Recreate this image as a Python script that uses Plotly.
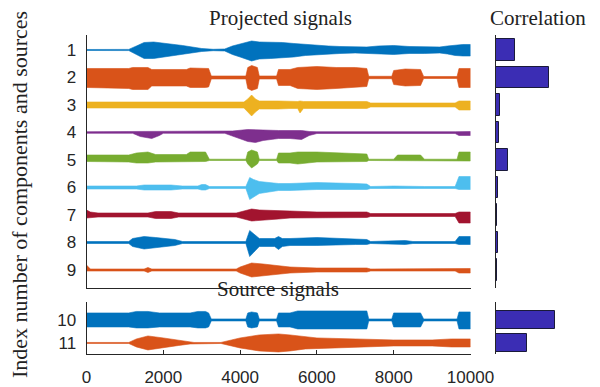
import plotly.graph_objects as go

# ---------------- data ----------------
# envelope knots for each signal: time samples, upper and lower amplitude (a.u.)
s1_t = [0, 1100, 1300, 1500, 1750, 2000, 2250, 2500, 2750, 3000, 3300, 3600, 3800, 4000, 4300, 4500, 4800, 5100, 5400, 5700, 6000, 6300, 6600, 7000, 7300, 7600, 8000, 8400, 8800, 9200, 9400, 9600, 9800, 10000]
s1_up = [0.5, 0.6, 4, 7.5, 8, 7, 6, 4.5, 3, 1.5, 0.7, 1, 4, 6, 9, 8, 8, 7.5, 6.5, 5.5, 5, 4, 3.5, 3, 3, 4, 4.5, 3.5, 3.5, 3, 4, 5, 5.5, 5.5]
s1_dn = [0.5, 0.6, 4.5, 8.5, 8.5, 7.5, 6, 4.5, 3, 1.5, 0.7, 1, 4.5, 7, 11, 9, 8.5, 8, 7, 5.5, 5, 4, 3.5, 3, 3, 4, 4.5, 3.5, 3.5, 3, 4, 5.5, 6, 6]

s2_t = [0, 1100, 1200, 1600, 1700, 2600, 2700, 3100, 3180, 3250, 4150, 4200, 4300, 4450, 4500, 4950, 5000, 5300, 5500, 6000, 6500, 7000, 7300, 7350, 7950, 8000, 8300, 8700, 8780, 9650, 9700, 10000]
s2_up = [9, 9, 10, 10, 8, 8, 9.5, 9.5, 9, 1.5, 1.5, 10, 12, 10, 1.5, 1.5, 8, 8, 10, 11, 10, 10, 9, 1.2, 1.2, 7, 8.5, 8, 1, 1, 9, 9]
s2_dn = [10, 11, 12, 12, 8.5, 8.5, 10, 10, 9.5, 1.5, 1.5, 11, 13, 11, 1.5, 1.5, 8, 8, 11, 12, 11, 10, 9, 1.2, 1.2, 7, 8.5, 8, 1, 1, 10, 10]

s3_t = [0, 2000, 3000, 4100, 4200, 4300, 4400, 4500, 5000, 5300, 5500, 5560, 5650, 6000, 7300, 7400, 9600, 9700, 10000]
s3_up = [3, 3, 3, 3, 6, 10, 6, 4, 4, 3.5, 3.5, 4, 3.5, 3.5, 3.5, 2, 2, 4, 4]
s3_dn = [3, 3, 3, 3, 7, 11, 7, 4, 4, 3.5, 3.5, 8, 3.5, 3.5, 3.5, 2, 2, 5, 5]

s4_t = [0, 1200, 1400, 1700, 1900, 2000, 3600, 3800, 4200, 4400, 4600, 5000, 5300, 5600, 5800, 6000, 9600, 9700, 10000]
s4_up = [0.8, 0.8, 1, 1.5, 1, 0.8, 0.8, 1.5, 3, 3, 2.5, 2, 2, 2, 1, 0.8, 0.8, 1, 1]
s4_dn = [0.8, 0.8, 4, 6, 3, 0.8, 0.8, 3, 9, 10, 8, 6, 6, 7, 3, 1, 1, 3, 3]

s5_t = [0, 1100, 1300, 1600, 1800, 2600, 2700, 3100, 3200, 4150, 4200, 4300, 4450, 4500, 4950, 5000, 5300, 5500, 6000, 7000, 7300, 7350, 8000, 8100, 8700, 8800, 9650, 9700, 10000]
s5_up = [5, 5, 7, 8, 5.5, 5.5, 8, 8, 0.8, 0.8, 8, 10, 8, 0.8, 0.8, 7, 7, 8, 8, 7, 6, 0.8, 0.8, 5, 5, 0.8, 0.8, 8, 8]
s5_dn = [1.5, 2, 3, 3, 2, 2, 1.5, 1.5, 0.5, 0.5, 4, 8, 4, 0.5, 0.5, 3, 3, 4, 2, 1.5, 1.5, 0.5, 0.5, 0.8, 0.8, 0.5, 0.5, 1, 1]

s6_t = [0, 1300, 1500, 2200, 2500, 2900, 3000, 3100, 3200, 4150, 4250, 4350, 4500, 5000, 5300, 6000, 7000, 7300, 7400, 8000, 8800, 9600, 9700, 10000]
s6_up = [1.5, 1.5, 2.5, 2.5, 1.5, 1.5, 3, 3, 1, 1, 10, 8, 6, 4, 4, 5, 4, 3.5, 1, 1.5, 1, 1, 11, 11]
s6_dn = [1.5, 1.5, 2.5, 2.5, 1.5, 1.5, 2.5, 2.5, 1, 1, 12, 10, 6, 3, 3, 2, 2, 2, 1, 1.5, 1, 1, 2, 2]

s7_t = [0, 100, 300, 1600, 1800, 2200, 2400, 3900, 4100, 4300, 4500, 5000, 5300, 6000, 7300, 7400, 9600, 9700, 10000]
s7_up = [5, 3, 2, 2, 3.5, 3.5, 2, 2, 4, 6, 5, 4, 4, 3, 3, 1.5, 1.5, 3, 3]
s7_dn = [3, 3, 2, 2, 3.5, 3.5, 2, 2, 4, 6, 5, 4, 3, 3, 2.5, 1.5, 1.5, 8, 8]

s8_t = [0, 1100, 1200, 1500, 1800, 2100, 2300, 2500, 4150, 4250, 4350, 4500, 4900, 5000, 5100, 5300, 6000, 7000, 7300, 7400, 8000, 8300, 8500, 9600, 9700, 10000]
s8_up = [1, 1, 4, 6, 5, 4, 3, 1, 1, 12, 9, 4, 4, 6, 4, 4, 5, 3, 3, 1, 1.5, 2, 1, 1, 6, 6]
s8_dn = [1, 1, 4, 6.5, 5, 4, 3, 1, 1, 14, 10, 4, 4, 7, 4, 3, 3, 2, 2, 1, 1.5, 2, 1, 1, 2, 2]

s9_t = [0, 100, 1500, 1600, 1700, 3900, 4000, 4300, 4600, 5000, 5300, 6000, 7300, 7400, 9600, 9700, 10000]
s9_up = [5, 1, 1, 2.5, 1, 1, 3, 7, 6, 4, 3, 2, 2, 1, 1, 1.5, 1.5]
s9_dn = [1, 1, 1, 2.5, 1, 1, 3, 7, 6, 4, 3, 2, 2, 1, 1, 3, 3]

s10_t = [0, 1100, 1300, 1600, 1900, 2700, 2900, 3100, 3180, 3250, 4150, 4200, 4300, 4450, 4500, 4950, 5000, 5300, 5500, 6500, 7300, 7350, 7950, 8000, 8700, 8780, 9650, 9700, 10000]
s10_up = [7, 7, 8.5, 8.5, 7, 7, 8.5, 8.5, 7, 1, 1, 7, 8, 7, 1, 1, 7, 7, 9, 9, 9, 1, 1, 7, 7, 1, 1, 8, 8]
s10_dn = [7, 7, 8, 8, 7, 7, 8, 8, 7, 1, 1, 7, 8, 7, 1, 1, 7, 7, 9, 9, 9, 1, 1, 7, 7, 1, 1, 9, 9]

s11_t = [0, 1100, 1300, 1600, 2000, 2400, 2700, 2800, 3500, 4000, 4500, 5000, 5300, 5700, 6000, 7000, 8000, 9000, 9500, 10000]
s11_up = [0.5, 0.5, 4, 7, 5, 2.5, 1, 0.5, 0.5, 5, 8, 9, 8, 6, 5, 4, 3, 3, 4, 4]
s11_dn = [0.5, 0.5, 4, 7, 5, 2.5, 1, 0.5, 0.5, 5, 8, 9, 8, 6, 5, 4, 3, 3, 4, 4]

projected_idx = [1, 2, 3, 4, 5, 6, 7, 8, 9]
source_idx = [10, 11]
corr_projected = [0.32, 0.88, 0.07, 0.05, 0.20, 0.04, 0.02, 0.04, 0.015]
corr_source = [0.98, 0.51]
x_ticks = [0, 2000, 4000, 6000, 8000, 10000]
x_tick_text = ["0", "2000", "4000", "6000", "8000", "10000"]

colors = ["#0072BD", "#D95319", "#EDB120", "#7E2F8E", "#77AC30",
          "#4DBEEE", "#A2142F", "#0072BD", "#D95319", "#0072BD", "#D95319"]
bar_color = "#3B2DB4"

projected = [(s1_t, s1_up, s1_dn), (s2_t, s2_up, s2_dn), (s3_t, s3_up, s3_dn),
             (s4_t, s4_up, s4_dn), (s5_t, s5_up, s5_dn), (s6_t, s6_up, s6_dn),
             (s7_t, s7_up, s7_dn), (s8_t, s8_up, s8_dn), (s9_t, s9_up, s9_dn)]
sources = [(s10_t, s10_up, s10_dn), (s11_t, s11_up, s11_dn)]

# ---------------- figure ----------------
W, H = 600, 387
fig = go.Figure()

def px_x(p):
    return p / W

def px_y(p):
    return 1 - p / H

scale_top = 1 / 27.5
scale_bot = 1 / 23.0

def add_env(t, up, dn, base, scale, color, xa, ya):
    xs = list(t) + list(t[::-1])
    ys = [base - u * scale for u in up] + [base + d * scale for d in dn[::-1]]
    fig.add_trace(go.Scatter(x=xs, y=ys, fill="toself", fillcolor=color,
                             line=dict(color=color, width=0.6), mode="lines",
                             xaxis=xa, yaxis=ya, hoverinfo="skip", showlegend=False))

for i, (t, up, dn) in enumerate(projected):
    add_env(t, up, dn, projected_idx[i], scale_top, colors[i], "x", "y")
for i, (t, up, dn) in enumerate(sources):
    add_env(t, up, dn, source_idx[i], scale_bot, colors[9 + i], "x2", "y2")

fig.add_trace(go.Bar(y=projected_idx, x=corr_projected, orientation="h", width=0.79,
                     marker=dict(color=bar_color, line=dict(color="#1a1a3a", width=1)),
                     xaxis="x3", yaxis="y3", hoverinfo="skip", showlegend=False))
fig.add_trace(go.Bar(y=source_idx, x=corr_source, orientation="h", width=0.75,
                     marker=dict(color=bar_color, line=dict(color="#1a1a3a", width=1)),
                     xaxis="x4", yaxis="y4", hoverinfo="skip", showlegend=False))

axcol = "#262626"
top_dom = [px_y(287.5), px_y(35)]
bot_dom = [px_y(354), px_y(302)]
sig_x_dom = [px_x(86.5), px_x(470.5)]
bar_x_dom = [px_x(496), 1.0]
top_range = [9.636, 0.455]
bot_range = [11.48, 9.22]
tickfont = dict(family="Liberation Sans, Arial, sans-serif", size=17, color="#262626")

common = dict(automargin=False, showgrid=False, zeroline=False)
fig.update_layout(
    width=W, height=H, margin=dict(l=0, r=0, t=0, b=0, autoexpand=False),
    paper_bgcolor="white", plot_bgcolor="white",
    xaxis=dict(domain=sig_x_dom, range=[0, 10000], anchor="y", showline=True,
               linecolor=axcol, linewidth=1, showticklabels=False, ticks="", **common),
    yaxis=dict(domain=top_dom, range=top_range, anchor="x", showline=True,
               linecolor=axcol, linewidth=1, tickvals=projected_idx, ticks="",
               tickfont=tickfont, ticklabelstandoff=6, **common),
    xaxis2=dict(domain=sig_x_dom, range=[0, 10000], anchor="y2", showline=True,
                linecolor=axcol, linewidth=1, tickvals=x_ticks, ticktext=x_tick_text,
                ticks="inside", ticklen=4, tickcolor=axcol, tickfont=tickfont,
                ticklabelstandoff=8, **common),
    yaxis2=dict(domain=bot_dom, range=bot_range, anchor="x2", showline=True,
                linecolor=axcol, linewidth=1, tickvals=source_idx, ticks="",
                tickfont=tickfont, ticklabelstandoff=6, **common),
    xaxis3=dict(domain=bar_x_dom, range=[0, 1.733], anchor="y3", visible=False, **common),
    yaxis3=dict(domain=top_dom, range=top_range, anchor="x3", showline=True,
                linecolor=axcol, linewidth=1, showticklabels=False, ticks="", **common),
    xaxis4=dict(domain=bar_x_dom, range=[0, 1.733], anchor="y4", visible=False, **common),
    yaxis4=dict(domain=bot_dom, range=bot_range, anchor="x4", showline=True,
                linecolor=axcol, linewidth=1, showticklabels=False, ticks="", **common),
    bargap=0,
)

serif_family = "Liberation Serif, Times New Roman, serif"
serif = dict(family=serif_family, size=21, color="#222222")
fig.add_annotation(text="Projected signals", x=px_x(280), y=px_y(18), xref="paper",
                   yref="paper", showarrow=False, font=serif, xanchor="center", yanchor="middle")
fig.add_annotation(text="Correlation", x=px_x(538), y=px_y(18), xref="paper",
                   yref="paper", showarrow=False, font=serif, xanchor="center", yanchor="middle")
fig.add_annotation(text="Source signals", x=px_x(278), y=px_y(289), xref="paper",
                   yref="paper", showarrow=False, font=serif, xanchor="center", yanchor="middle")
fig.add_annotation(text="Index number of components and sources", x=px_x(19), y=px_y(195),
                   xref="paper", yref="paper", showarrow=False,
                   font=dict(family=serif_family, size=22, color="#222222"),
                   textangle=-90, xanchor="center", yanchor="middle")

fig.write_html("out.html")
